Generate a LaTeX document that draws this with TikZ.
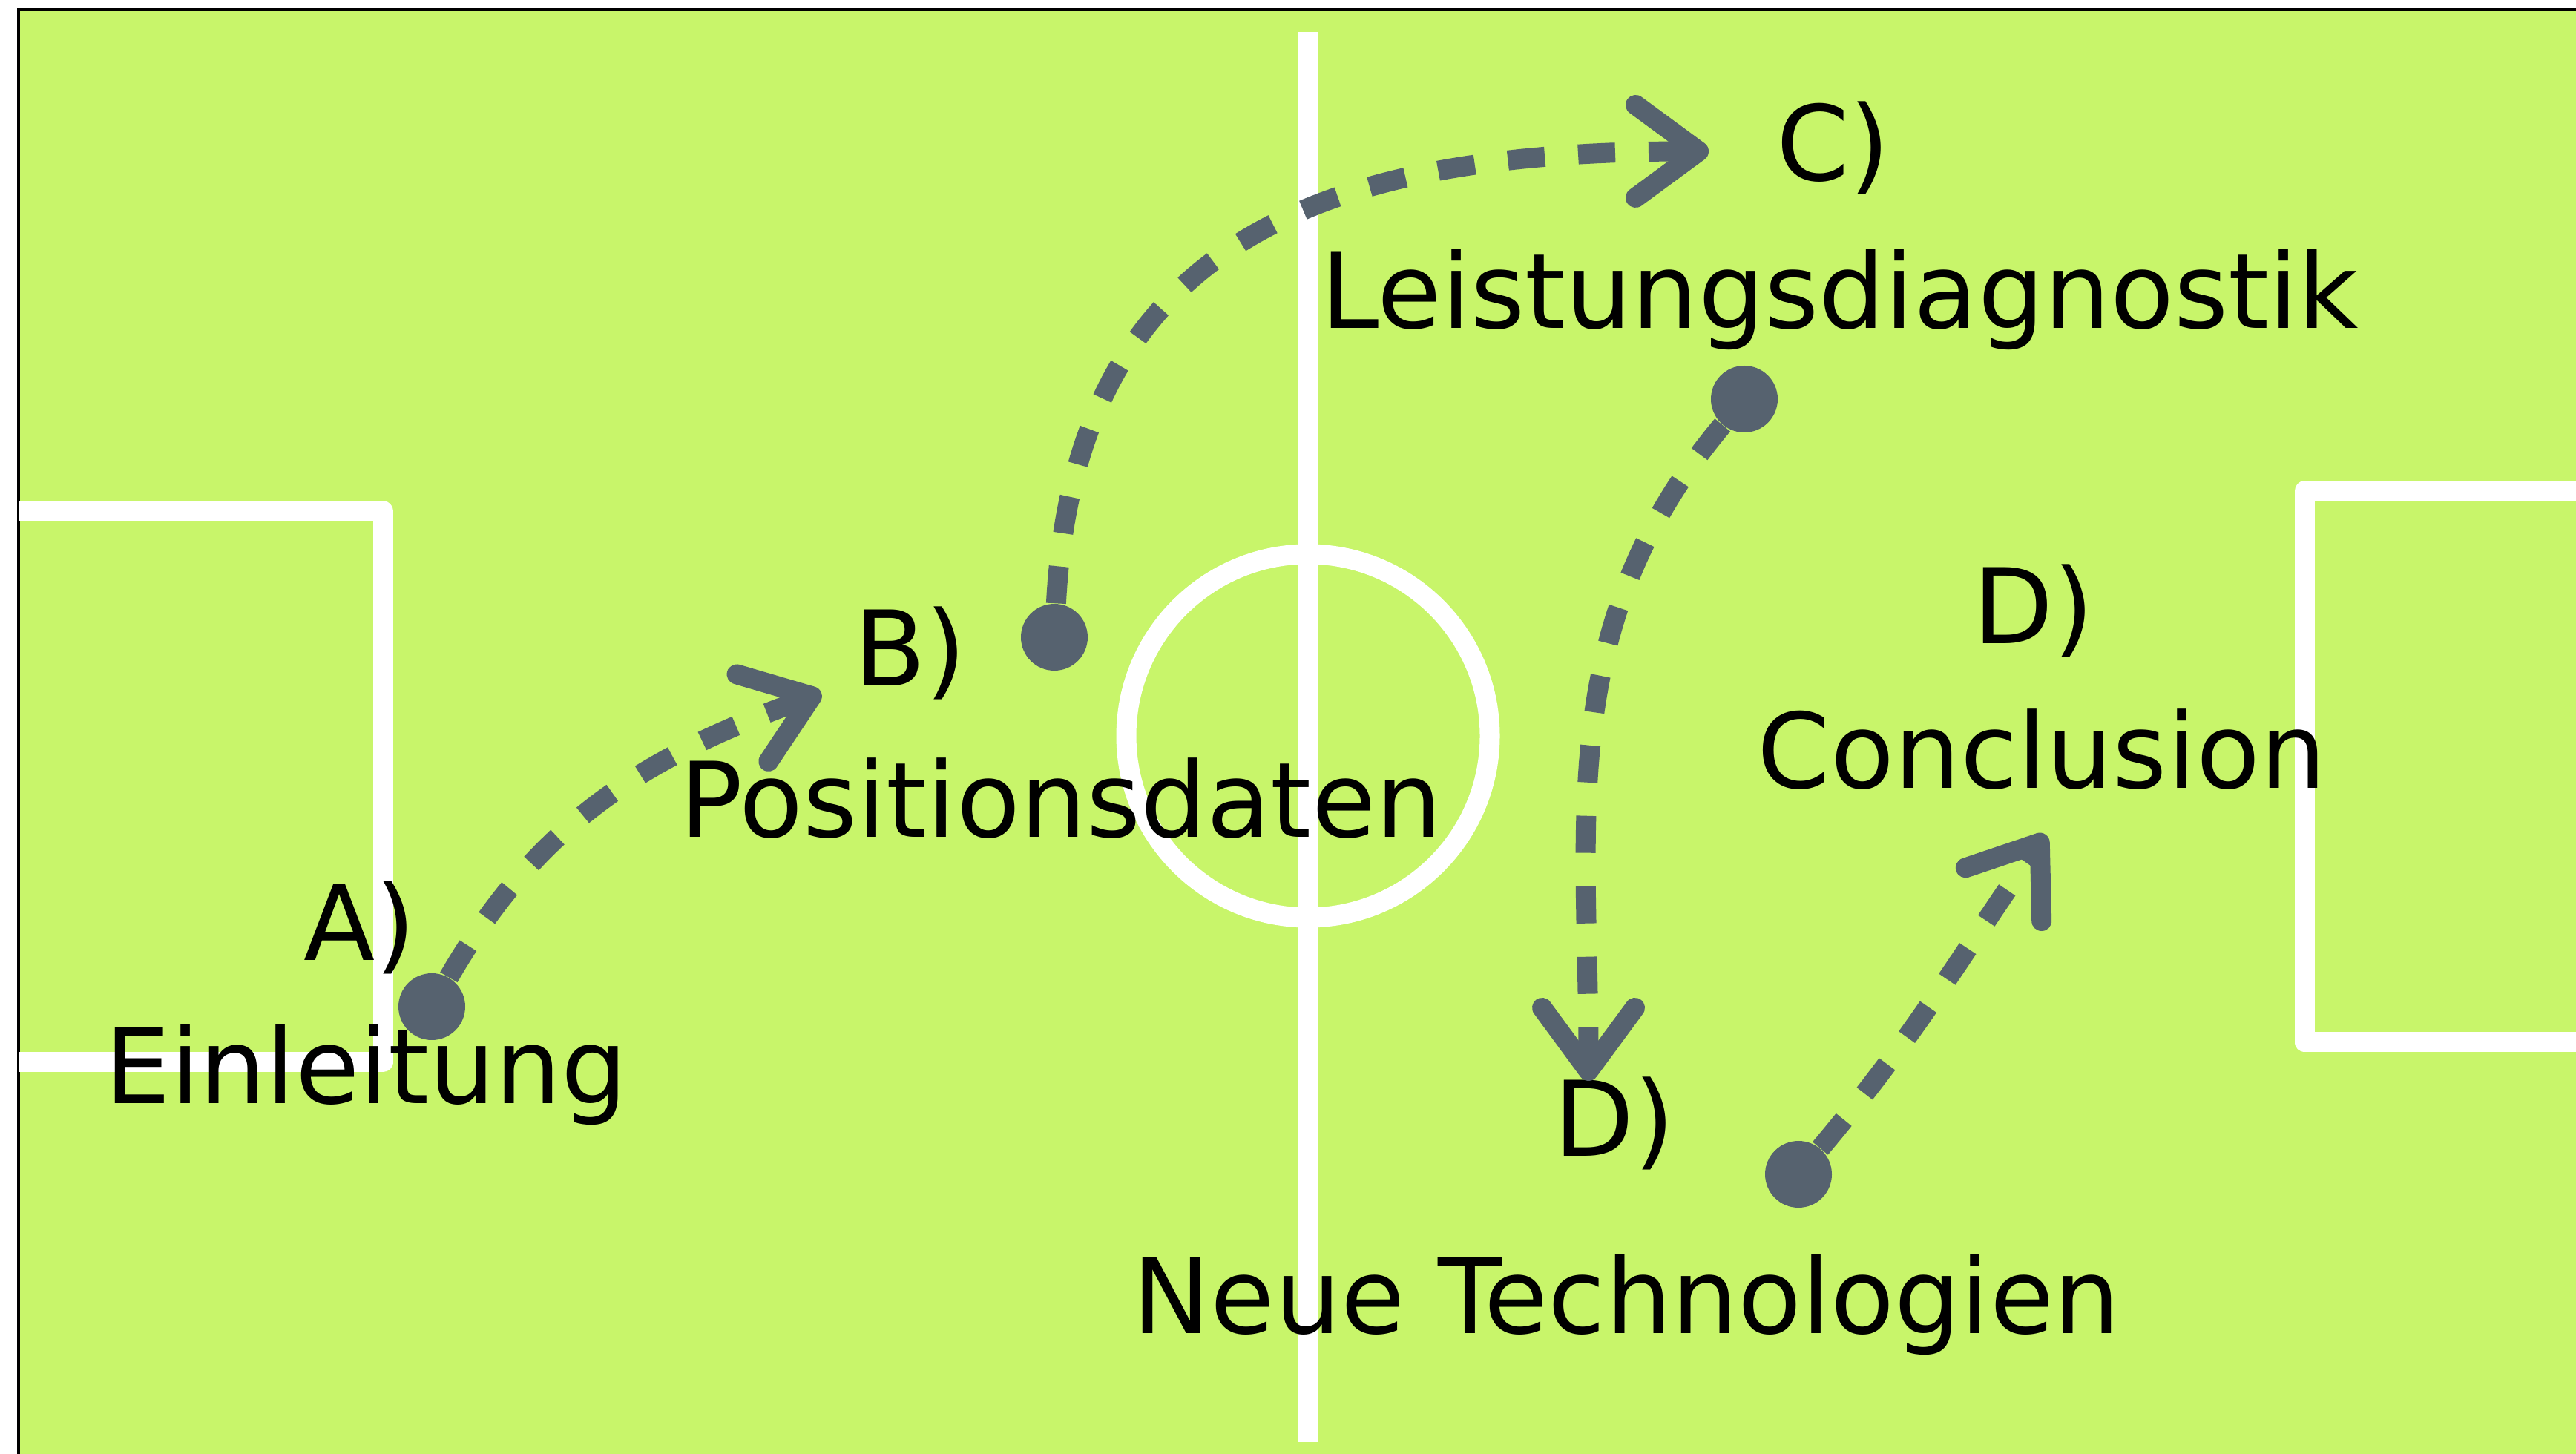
\documentclass[tikz,border=0pt]{standalone}
\usepackage{fontspec}
\setmainfont{DejaVu Sans}
\usepackage{tikz}
\usetikzlibrary{arrows.meta, positioning}

\definecolor{pitch}{RGB}{200,245,106}
\definecolor{slate}{RGB}{86,98,111}

\begin{document}
\begin{tikzpicture}[
    chalk/.style={white, line width=0.27cm, line join=round},
    ball/.style={circle, fill=slate, inner sep=0pt, minimum size=0.9cm},
    pass/.style={slate, line width=0.27cm, dash pattern=on 0.5cm off 0.45cm,
                 -{Straight Barb[length=0.85cm, width=1.25cm, round]}},
    txt/.style={font=\fontsize{40}{48}\selectfont, anchor=base}
  ]
    \useasboundingbox (0,0) rectangle (34.72,19.6);
    % Pitch
    \fill[pitch] (0.25,0) rectangle (34.72,19.47);
    \draw[line width=0.04cm] (0.25,0) -- (0.25,19.47) -- (34.72,19.47);
    % Markings
    \draw[chalk] (17.63,0.16) -- (17.63,19.17);
    \draw[chalk] (17.63,9.68) circle (2.45);
    \draw[chalk] (0.25,12.71) -- (5.16,12.71) -- (5.16,5.28) -- (0.25,5.28); % left box
    \draw[chalk] (34.72,12.98) -- (31.06,12.98) -- (31.06,5.55) -- (34.72,5.55); % right box
    % Labels
    \node[txt] (a) at (4.85,6.65) {A)};
    \node[txt] (ein) at (4.94,4.72) {Einleitung};
    \node[txt] (b) at (12.27,10.35) {B)};
    \node[txt] (pos) at (14.30,8.31) {Positionsdaten};
    \node[txt] (c) at (24.71,17.16) {C)};
    \node[txt] (leist) at (24.80,15.17) {Leistungsdiagnostik};
    \node[txt] (d) at (27.41,10.92) {D)};
    \node[txt] (concl) at (27.52,8.97) {Conclusion};
    \node[txt] (dd) at (21.76,4.01) {D)};
    \node[txt] (neu) at (21.92,1.62) {Neue Technologien};
    % Players
    \node[ball] (dA) at (5.82,6.03) {};
    \node[ball] (dB) at (14.21,11.01) {};
    \node[ball] (dC) at (23.51,14.22) {};
    \node[ball] (dD) at (24.24,3.77) {};
    \coordinate (tA) at (11.07,10.26);
    \coordinate (tC) at (23.03,17.56);
    \coordinate (tD) at (21.41,5.03);
    \coordinate (tE) at (27.57,8.35);
    % Runs
    \draw[pass] (dA) to[out=60, in=200] (tA);
    \draw[pass] (dB) to[out=87, in=180, looseness=1.2] (tC);
    \draw[pass] (dC) to[out=230, in=90] (tD);
    \draw[pass] (dD) to[out=50, in=235] (tE);
\end{tikzpicture}
\end{document}
